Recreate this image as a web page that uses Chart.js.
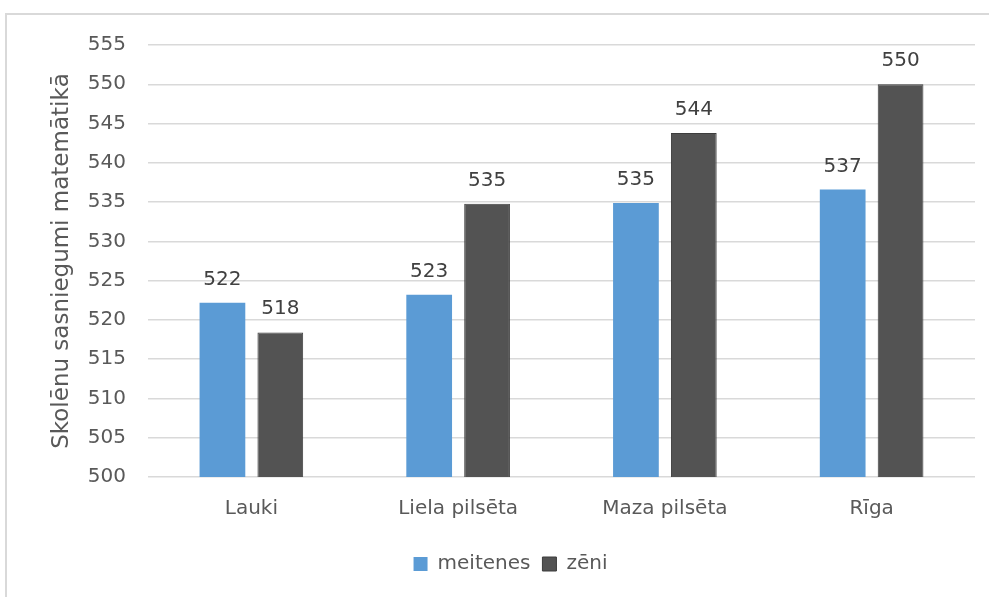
<!DOCTYPE html>
<html>
<head>
<meta charset="utf-8">
<script src="https://cdn.jsdelivr.net/npm/chart.js@4"></script>
<style>
  html, body { margin: 0; padding: 0; background: #fff; }
  #wrap { position: relative; width: 989px; height: 597px; }
  #frame { position: absolute; left: 5px; top: 13px; right: -5px; bottom: -5px; border-top: 2px solid #d9d9d9; border-left: 2px solid #d9d9d9; }
  canvas { position: absolute; left: 0; top: 0; }
</style>
</head>
<body>
<div id="wrap">
  <div id="frame"></div>
  <canvas id="chart" width="989" height="597"></canvas>
</div>
<script>
const categories = ["Lauki", "Liela pilsēta", "Maza pilsēta", "Rīga"];
const meitenes = [522.2, 523.2, 534.9, 536.6];
const zeni = [518.4, 534.8, 543.8, 550.0];
const yTitle = "Skolēnu sasniegumi matemātikā";

const FONT = "'DejaVu Sans', sans-serif";

const valueLabels = {
  id: "valueLabels",
  afterDatasetsDraw(chart) {
    const ctx = chart.ctx;
    ctx.save();
    ctx.font = "20px " + FONT;
    ctx.fillStyle = "#404040";
    ctx.textAlign = "center";
    ctx.textBaseline = "alphabetic";
    chart.data.datasets.forEach((ds, i) => {
      chart.getDatasetMeta(i).data.forEach((bar, j) => {
        ctx.fillText(Math.round(ds.data[j]), bar.x, bar.y - 18);
      });
    });
    ctx.restore();
  }
};

new Chart(document.getElementById("chart").getContext("2d"), {
  type: "bar",
  data: {
    labels: categories,
    datasets: [
      {
        label: "meitenes",
        data: meitenes,
        backgroundColor: "#5b9bd5",
        borderColor: "#5b9bd5",
        borderWidth: 0,
        categoryPercentage: 0.56,
        barPercentage: 0.79,
      },
      {
        label: "zēni",
        data: zeni,
        backgroundColor: "#535353",
        borderColor: "#3d3d3d",
        borderWidth: 1,
        categoryPercentage: 0.56,
        barPercentage: 0.79,
      },
    ],
  },
  options: {
    responsive: false,
    animation: false,
    layout: { padding: { left: 46, right: 14, top: 45, bottom: 13 } },
    plugins: {
      legend: {
        position: "bottom",
        labels: {
          font: { family: FONT, size: 20 },
          color: "#595959",
          boxWidth: 14,
          boxHeight: 14,
          padding: 12,
        },
      },
      tooltip: { enabled: false },
    },
    scales: {
      x: {
        grid: { display: false, drawTicks: false },
        border: { display: false },
        ticks: { font: { family: FONT, size: 20 }, color: "#595959", padding: 20 },
        afterFit: (scale) => { scale.height = 65; },
      },
      y: {
        min: 500,
        max: 555,
        ticks: { stepSize: 5, font: { family: FONT, size: 20 }, color: "#595959", padding: 22 },
        grid: { color: "#d9d9d9", lineWidth: 1.5, drawTicks: false },
        border: { display: false },
        title: { display: true, text: yTitle, font: { family: FONT, size: 23 }, color: "#595959", padding: 2 },
        afterFit: (scale) => { scale.width = 102; },
      },
    },
  },
  plugins: [valueLabels],
});
</script>
</body>
</html>
